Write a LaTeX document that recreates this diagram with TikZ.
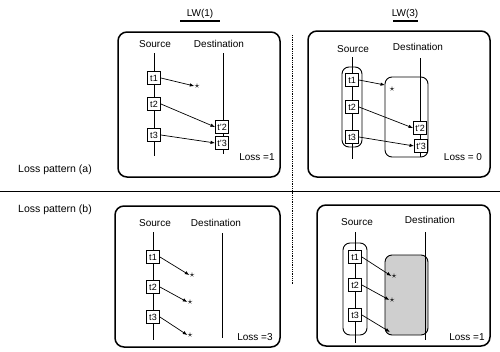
\documentclass[tikz,border=0pt]{standalone}
\usepackage{fontspec}
\setmainfont{Liberation Sans}
\usetikzlibrary{arrows.meta}
\begin{document}
\begin{tikzpicture}[x=1pt,y=-1pt,
  panel/.style={draw, line width=1.5pt, rounded corners=9pt, inner sep=0pt},
  tbox/.style={draw, line width=0.9pt, minimum size=13pt, inner sep=0pt, fill=white, font=\fontsize{9}{9}\selectfont},
  lbl/.style={font=\fontsize{10}{10}\selectfont, inner sep=1pt},
  side/.style={font=\fontsize{10.5}{11}\selectfont, inner sep=1pt},
  conn/.style={-{Latex[length=4.5pt,width=3.5pt]}, line width=0.7pt},
  grp/.style={draw, line width=0.9pt, rounded corners=7pt, inner sep=0pt},
  shade/.style={draw, line width=0.9pt, rounded corners=7pt, inner sep=0pt, fill=gray!38},
  axis/.style={line width=0.7pt},
  starn/.style={inner sep=0pt, font=\fontsize{10}{10}\selectfont}]
\useasboundingbox (0,0) rectangle (500,351);

% titles
\node[lbl] (lw1) at (200,14) {LW(1)};
\draw[line width=2pt] (180,21) -- (220,21);
\node[lbl] (lw3) at (405,14) {LW(3)};
\draw[line width=2pt] (393,21) -- (418,21);

% separators
\coordinate (hl) at (0,191); \coordinate (hr) at (500,191);
\draw[line width=0.8pt] (hl) -- (hr);
\coordinate (vt) at (292,35); \coordinate (vb) at (292,284);
\draw[line width=0.8pt, densely dotted] (vt) -- (vb);

\node[side] (pa) at (55,170) {Loss pattern (a)};
\node[side] (pb) at (55,210) {Loss pattern (b)};

% ---------- panel 1 ----------
\node[panel, minimum width=162pt, minimum height=145pt] (p1) at (199,104.5) {};
\node[lbl] (src1) at (155,44) {Source};
\node[lbl] (dst1) at (219,44) {Destination};
\coordinate (s1a) at (154,53); \coordinate (s1b) at (154,156);
\coordinate (d1a) at (223,53); \coordinate (d1b) at (223,154);
\draw[axis] (s1a) -- (s1b);
\draw[axis] (d1a) -- (d1b);
\node[tbox] (a11) at (154,78) {t1};
\node[tbox] (a12) at (154,104) {t2};
\node[tbox] (a13) at (154,135) {t3};
\node[tbox] (b12) at (222,127) {t'2};
\node[tbox] (b13) at (222,143) {t'3};
\node[starn] (st1) at (197,86) {$\star$};
\draw[conn] (a11.east) -- (st1.west);
\draw[conn] (a12.east) -- (b12.west);
\draw[conn] (a13.east) -- (b13.west);
\node[lbl] (loss1) at (257,157) {Loss =1};

% ---------- panel 2 ----------
\node[panel, minimum width=182pt, minimum height=146pt] (p2) at (399,104) {};
\node[lbl] (src2) at (353,49) {Source};
\node[lbl] (dst2) at (418,47) {Destination};
\coordinate (s2a) at (352,57); \coordinate (s2b) at (352,159);
\coordinate (d2a) at (420,58); \coordinate (d2b) at (420,157);
\draw[axis] (s2a) -- (s2b);
\draw[axis] (d2a) -- (d2b);
\node[grp, minimum width=20pt, minimum height=80pt] (g2s) at (352,107) {};
\node[grp, minimum width=43pt, minimum height=80pt] (g2d) at (406.5,117) {};
\node[tbox] (a21) at (352,80) {t1};
\node[tbox] (a22) at (352,107) {t2};
\node[tbox] (a23) at (352,137) {t3};
\node[tbox] (b22) at (420,128) {t'2};
\node[tbox] (b23) at (421,146) {t'3};
\coordinate (e21) at (385,85);
\node[starn] (st2) at (392,89) {$\star$};
\draw[conn] (a21.east) -- (e21);
\draw[conn] (a22.east) -- (b22.west);
\draw[conn] (a23.east) -- (b23.west);
\node[lbl] (loss2) at (463,157) {Loss = 0};

% ---------- panel 3 ----------
\node[panel, minimum width=165pt, minimum height=141pt] (p3) at (197.5,276.5) {};
\node[lbl] (src3) at (155,223) {Source};
\node[lbl] (dst3) at (216,223) {Destination};
\coordinate (s3a) at (153,232); \coordinate (s3b) at (153,340);
\coordinate (d3a) at (222,233); \coordinate (d3b) at (222,338);
\draw[axis] (s3a) -- (s3b);
\draw[axis] (d3a) -- (d3b);
\node[tbox] (a31) at (153,257) {t1};
\node[tbox] (a32) at (153,287) {t2};
\node[tbox] (a33) at (153,317) {t3};
\node[starn] (st31) at (192,275) {$\star$};
\node[starn] (st32) at (190,302) {$\star$};
\node[starn] (st33) at (190,335) {$\star$};
\draw[conn] (a31.east) -- (st31.west);
\draw[conn] (a32.east) -- (st32.west);
\draw[conn] (a33.east) -- (st33.west);
\node[lbl] (loss3) at (255,337) {Loss =3};

% ---------- panel 4 ----------
\node[panel, minimum width=173pt, minimum height=141pt] (p4) at (403.5,275.5) {};
\node[lbl] (src4) at (357,222) {Source};
\node[lbl] (dst4) at (430,220) {Destination};
\node[shade, minimum width=43pt, minimum height=80pt] (g4d) at (406.5,295) {};
\coordinate (s4a) at (355,232); \coordinate (s4b) at (355,343);
\coordinate (d4a) at (425,232); \coordinate (d4b) at (425,340);
\draw[axis] (s4a) -- (s4b);
\draw[axis] (d4a) -- (d4b);
\node[grp, minimum width=24pt, minimum height=92pt] (g4s) at (355,289) {};
\node[tbox] (a41) at (355,257) {t1};
\node[tbox] (a42) at (355,285) {t2};
\node[tbox] (a43) at (355,315) {t3};
\node[starn] (st41) at (394,276) {$\star$};
\node[starn] (st42) at (392,300) {$\star$};
\coordinate (e43) at (390,332);
\draw[conn] (a41.east) -- (st41.west);
\draw[conn] (a42.east) -- (st42.west);
\draw[conn] (a43.east) -- (e43);
\node[lbl] (loss4) at (467,337) {Loss =1};
\end{tikzpicture}
\end{document}
